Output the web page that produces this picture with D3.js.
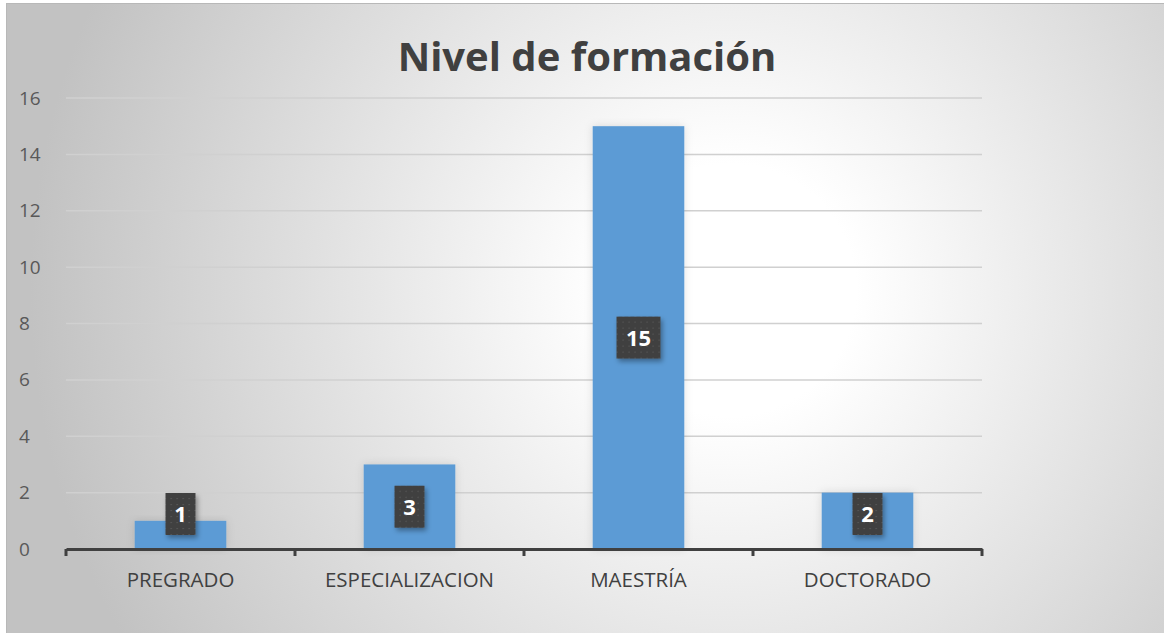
<!DOCTYPE html>
<html>
<head>
<meta charset="utf-8">
<script src="https://cdnjs.cloudflare.com/ajax/libs/d3/7.8.5/d3.min.js"></script>
<style>
  body { margin: 0; background: #fff; }
  text { font-family: "Open Sans", "Noto Sans", sans-serif; }
</style>
</head>
<body>
<div id="chart"></div>
<script>
var categories = ["PREGRADO", "ESPECIALIZACION", "MAESTRÍA", "DOCTORADO"];
var counts = [1, 3, 15, 2];
var yTicks = [0, 2, 4, 6, 8, 10, 12, 14, 16];
var chartTitle = "Nivel de formación";

var svgWidth = 1164, svgHeight = 633;
var margin = {top: 98, left: 66, right: 182, bottom: 84};
var width = svgWidth - margin.left - margin.right;
var height = svgHeight - margin.top - margin.bottom;

var svg = d3.select("#chart")
    .append("svg")
    .attr("width", svgWidth)
    .attr("height", svgHeight);

var defs = svg.append("defs");

// background
var grad = defs.append("radialGradient")
    .attr("id", "bg")
    .attr("gradientUnits", "userSpaceOnUse")
    .attr("cx", 730).attr("cy", 290).attr("r", 700);
grad.append("stop").attr("offset", "0%").attr("stop-color", "#ffffff");
grad.append("stop").attr("offset", "18%").attr("stop-color", "#ffffff");
grad.append("stop").attr("offset", "100%").attr("stop-color", "#c2c2c2");

var pat = defs.append("pattern")
    .attr("id", "dots")
    .attr("patternUnits", "userSpaceOnUse")
    .attr("width", 6).attr("height", 6);
pat.append("rect").attr("width", 6).attr("height", 6).attr("fill", "#3f3f3f");
pat.append("rect").attr("x", 2).attr("y", 2).attr("width", 1.2).attr("height", 1.2).attr("fill", "#5e5e5e");

var shadow = defs.append("filter").attr("id", "shadow")
    .attr("x", "-30%").attr("y", "-30%").attr("width", "160%").attr("height", "160%");
shadow.append("feDropShadow")
    .attr("dx", 2).attr("dy", 3).attr("stdDeviation", 2.5)
    .attr("flood-color", "#000").attr("flood-opacity", 0.35);

var glow = defs.append("filter").attr("id", "glow")
    .attr("x", "-20%").attr("y", "-20%").attr("width", "140%").attr("height", "140%");
glow.append("feDropShadow")
    .attr("dx", 0).attr("dy", 0).attr("stdDeviation", 4)
    .attr("flood-color", "#000").attr("flood-opacity", 0.12);

svg.append("rect")
    .attr("x", 6.5).attr("y", 3.5)
    .attr("width", svgWidth - 6).attr("height", svgHeight - 3)
    .attr("fill", "url(#bg)")
    .attr("stroke", "#b8b8b8")
    .attr("stroke-width", 1);

// title
svg.append("text")
    .attr("x", 587)
    .attr("y", 71)
    .attr("text-anchor", "middle")
    .style("font-size", "40px")
    .style("font-weight", "bold")
    .style("fill", "#404040")
    .text(chartTitle);

var g = svg.append("g")
    .attr("transform", "translate(" + margin.left + "," + margin.top + ")");

// scales
var x = d3.scaleBand()
    .domain(categories)
    .range([0, width])
    .paddingInner(0.6)
    .paddingOuter(0.3);

var y = d3.scaleLinear()
    .domain([0, 16])
    .range([height, 0]);

// gridlines
g.append("g")
    .selectAll("line")
    .data(yTicks.filter(d => d > 0))
    .join("line")
    .attr("x1", 0)
    .attr("x2", width)
    .attr("y1", d => y(d))
    .attr("y2", d => y(d))
    .attr("stroke", "#d0d0d0")
    .attr("stroke-width", 1.5);

// y axis labels
var yAxis = d3.axisLeft(y)
    .tickValues(yTicks)
    .tickSize(0);

g.append("g")
    .attr("class", "y axis")
    .call(yAxis)
    .call(a => a.select(".domain").remove())
    .selectAll("text")
    .style("font-size", "19px")
    .style("fill", "#595959")
    .style("text-anchor", "start")
    .attr("x", -47);

// bars
g.append("g")
    .selectAll("rect")
    .data(counts)
    .join("rect")
    .attr("x", (d, i) => x(categories[i]))
    .attr("width", x.bandwidth())
    .attr("y", d => y(d))
    .attr("height", d => y(0) - y(d))
    .attr("fill", "#5b9bd5")
    .attr("filter", "url(#glow)");

// x axis
var xAxis = d3.axisBottom(x).tickSize(0).tickPadding(23);
var xg = g.append("g")
    .attr("class", "x axis")
    .attr("transform", "translate(0," + height + ")")
    .call(xAxis);
xg.select(".domain")
    .attr("stroke", "#404040")
    .attr("stroke-width", 3);
xg.selectAll("text")
    .style("font-size", "20.5px")
    .style("fill", "#404040");

// category boundary ticks
var bounds = d3.range(categories.length + 1).map(i => i * width / categories.length);
xg.append("g")
    .selectAll("line")
    .data(bounds)
    .join("line")
    .attr("x1", d => d)
    .attr("x2", d => d)
    .attr("y1", 0)
    .attr("y2", 7)
    .attr("stroke", "#404040")
    .attr("stroke-width", 3);

// data labels
var labels = g.append("g")
    .selectAll("g")
    .data(counts)
    .join("g")
    .attr("transform", (d, i) => {
        var cx = x(categories[i]) + x.bandwidth() / 2;
        var cy = Math.min(y(d / 2), y(0) - 35);
        return "translate(" + cx + "," + cy + ")";
    });

labels.append("rect")
    .attr("x", d => -(String(d).length > 1 ? 22 : 15))
    .attr("y", -21)
    .attr("width", d => String(d).length > 1 ? 44 : 30)
    .attr("height", 42)
    .attr("fill", "url(#dots)")
    .attr("filter", "url(#shadow)");

labels.append("text")
    .attr("text-anchor", "middle")
    .attr("dy", "0.36em")
    .style("font-size", "22px")
    .style("font-weight", "bold")
    .style("fill", "#ffffff")
    .text(d => d);
</script>
</body>
</html>
